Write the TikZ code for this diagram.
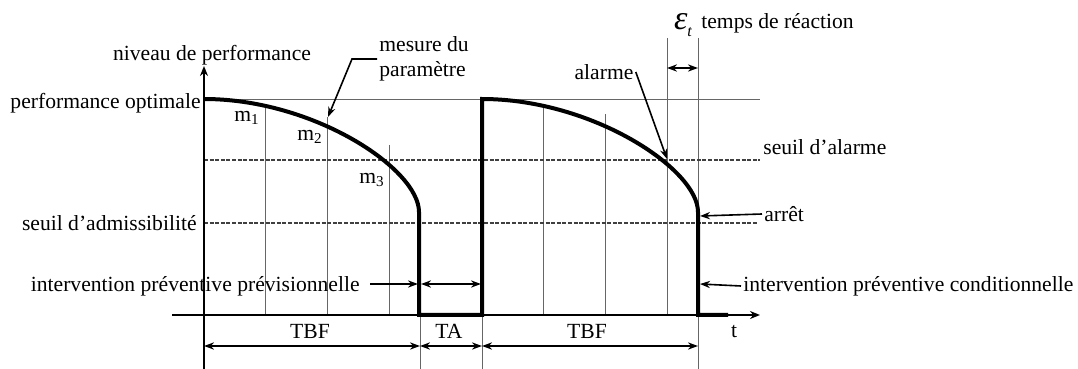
\documentclass[tikz,border=0pt]{standalone}
\usepackage{fontspec}
\setmainfont{Liberation Serif}
\usepackage{tikz}
\usetikzlibrary{arrows.meta,positioning}
\newcommand\lblfont{\fontsize{10.8}{12.5}\selectfont}
\tikzset{
  grille/.style={draw=black!60, line width=0.45pt},
  seuil/.style={draw=black!75, dash pattern=on 2pt off 0.8pt, line width=0.7pt},
  courbe/.style={draw=black, line width=2pt},
  axe/.style={-{Stealth[length=5pt,width=4pt]}, line width=1.2pt},
  fleche/.style={-{Stealth[length=5pt,width=3.6pt]}, line width=0.8pt},
  cote/.style={{Stealth[length=5pt,width=3.6pt]}-{Stealth[length=5pt,width=3.6pt]},
    line width=0.8pt},
  lbl/.style={font=\lblfont, inner sep=1pt},
}

\begin{document}
\begin{tikzpicture}[x=0.5pt, y=-0.5pt]
  \useasboundingbox (0,0) rectangle (1078,369);

  \draw[grille] (204,99) -- (760,99);
  \draw[grille] (265,104) -- (265,315);
  \draw[grille] (327,117) -- (327,315);
  \draw[grille] (389,145) -- (389,315);
  \draw[grille] (420,315) -- (420,369);
  \draw[grille] (482,315) -- (482,369);
  \draw[grille] (543,104) -- (543,315);
  \draw[grille] (605,114) -- (605,315);
  \draw[grille] (667,38) -- (667,315);
  \draw[grille] (698,38) -- (698,369);
  \draw[seuil] (204,160) -- (760,160);
  \draw[seuil] (204,223) -- (758,223);

  \draw[courbe] (204,99) .. controls (314,99) and (419,169) .. (419,212)
    -- (419,315) -- (482,315) -- (482,99)
    .. controls (592,99) and (698,169) .. (698,212) -- (698,315) -- (728,315);

  \draw[axe] (172,315) -- (760,315);
  \draw[axe] (204,369) -- (204,66);

  \node[lbl] (niveau) at (212,55) {niveau de performance};
  \node[lbl, anchor=east] (optimale) at (203,103) {performance optimale};
  \node[lbl, anchor=east] (admiss) at (199,223) {seuil d’admissibilité};
  \node[lbl] (m1) at (247,118) {m\textsubscript{1}};
  \node[lbl] (m2) at (310,137) {m\textsubscript{2}};
  \node[lbl] (m3) at (372,180) {m\textsubscript{3}};
  \node[lbl, anchor=west, align=left] (mesure) at (377,59) {mesure du\\paramètre};
  \node[lbl] (alarme) at (604,72) {alarme};
  \node[lbl] (eps) at (683,25) {{\fontsize{17}{17}\selectfont\itshape ε}\raisebox{-0.7ex}{\fontsize{8}{8}\selectfont\itshape t}};
  \node[lbl, anchor=west] (temps) at (699,23) {temps de réaction};
  \node[lbl, anchor=west] (salarme) at (761,147) {seuil d’alarme};
  \node[lbl, anchor=west] (arret) at (762,214) {arrêt};
  \node[lbl, anchor=west] (cond) at (741,286) {intervention préventive conditionnelle};
  \node[lbl, anchor=east] (prev) at (362,286) {intervention préventive prévisionnelle};
  \node[lbl] (tbf1) at (310,331) {TBF};
  \node[lbl] (ta) at (449,331) {TA};
  \node[lbl] (tbf2) at (587,331) {TBF};
  \node[lbl] (t) at (734,332) {t};

  \coordinate (pm) at (328,117);
  \coordinate (pa) at (667,159);
  \coordinate (pr) at (700,216);
  \coordinate (pc) at (700,284);
  \coordinate (pp) at (418,284);

  \draw[fleche] (mesure.west) -- ++(-25,0) -- (pm);
  \draw[fleche] (alarme.east) -- (pa);
  \draw[fleche] (arret.west) -- (pr);
  \draw[fleche] (cond.west) -- (pc);
  \draw[fleche] ([xshift=4pt,yshift=1pt]prev.east) -- (pp);
  \draw[cote] (421,284) -- (481,284);
  \draw[cote] (667,68) -- (698,68);
  \draw[cote] (204,346) -- (420,346);
  \draw[cote] (420,346) -- (482,346);
  \draw[cote] (482,346) -- (698,346);
\end{tikzpicture}
\end{document}
